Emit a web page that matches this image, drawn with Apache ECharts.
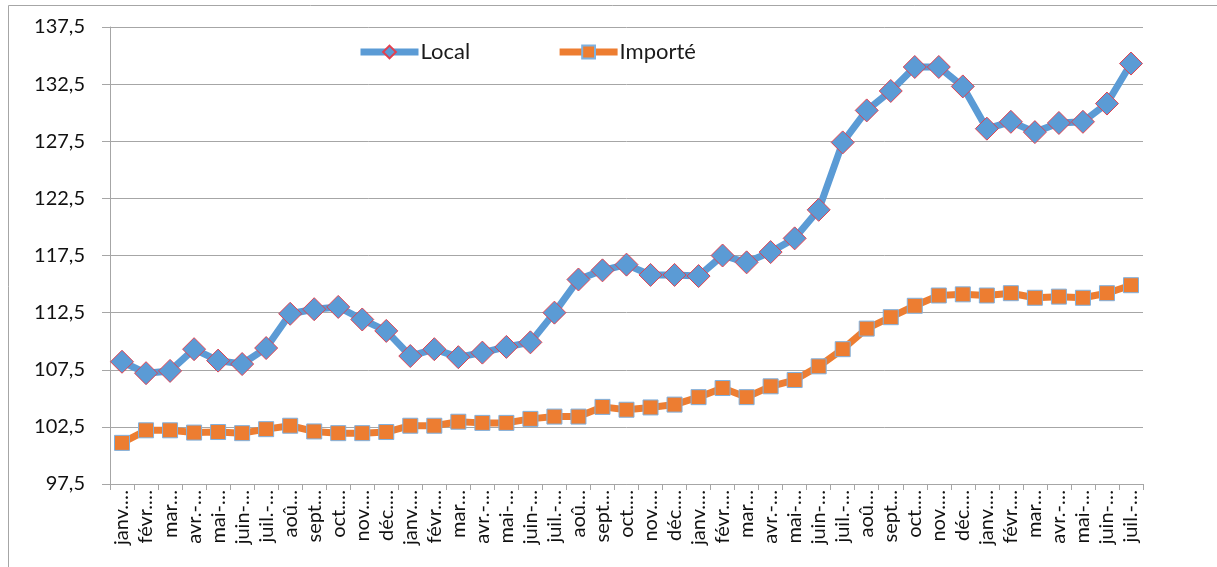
<!DOCTYPE html>
<html lang="fr">
<head>
    <meta charset="UTF-8">
    <title>Local / Importé</title>
    <script src="https://cdn.jsdelivr.net/npm/echarts@6/dist/echarts.min.js"></script>
</head>
<body style="margin:0;background:#fff">
<div id="main" style="width:1217px;height:567px;"></div>
<script>
    // tick labels as shown (truncated month names)
    const months = ['janv.…', 'févr.…', 'mar…', 'avr.-…', 'mai-…', 'juin-…', 'juil.-…',
        'aoû…', 'sept…', 'oct.…', 'nov.…', 'déc.…',
        'janv.…', 'févr.…', 'mar…', 'avr.-…', 'mai-…', 'juin-…', 'juil.-…',
        'aoû…', 'sept…', 'oct.…', 'nov.…', 'déc.…',
        'janv.…', 'févr.…', 'mar…', 'avr.-…', 'mai-…', 'juin-…', 'juil.-…',
        'aoû…', 'sept…', 'oct.…', 'nov.…', 'déc.…',
        'janv.…', 'févr.…', 'mar…', 'avr.-…', 'mai-…', 'juin-…', 'juil.-…'];

    const local = [108.2, 107.2, 107.4, 109.3, 108.3, 108.0, 109.4,
        112.4, 112.8, 113.0, 111.9, 110.9,
        108.7, 109.3, 108.6, 109.0, 109.5, 109.9, 112.5,
        115.4, 116.2, 116.7, 115.8, 115.8,
        115.7, 117.5, 116.9, 117.8, 119.0, 121.5, 127.4,
        130.2, 131.9, 134.0, 134.0, 132.3,
        128.6, 129.2, 128.3, 129.1, 129.2, 130.8, 134.3];

    const importe = [101.1, 102.2, 102.2, 102.0, 102.05, 101.95, 102.3,
        102.6, 102.1, 101.95, 101.95, 102.05,
        102.6, 102.6, 102.95, 102.85, 102.85, 103.2, 103.4,
        103.4, 104.25, 104.0, 104.2, 104.45,
        105.1, 105.9, 105.1, 106.05, 106.6, 107.8, 109.3,
        111.1, 112.1, 113.1, 114.0, 114.1,
        114.0, 114.2, 113.8, 113.9, 113.8, 114.2, 114.9];

    const txtFont = 'Lato, "Liberation Sans", sans-serif';
    const greyLine = '#a6a6a6';

    const myChart = echarts.init(document.getElementById('main'));
    const option = {
        animation: false,
        textStyle: {fontFamily: txtFont},
        graphic: [
            {type: 'line', shape: {x1: 8.5, y1: 5.5, x2: 1217, y2: 5.5}, style: {stroke: greyLine, lineWidth: 1}},
            {type: 'line', shape: {x1: 8.5, y1: 5.5, x2: 8.5, y2: 567}, style: {stroke: greyLine, lineWidth: 1}}
        ],
        legend: {
            top: 36,
            left: 352,
            itemWidth: 58,
            itemHeight: 16,
            itemGap: 86,
            lineStyle: {width: 7},
            textStyle: {fontSize: 22, color: '#1a1a1a', fontFamily: txtFont, padding: [0, 0, 0, -3]},
            data: ['Local', 'Importé']
        },
        grid: {left: 110, right: 74, top: 27, bottom: 83},
        xAxis: {
            type: 'category',
            data: months,
            boundaryGap: true,
            axisLine: {lineStyle: {color: greyLine}},
            axisTick: {show: true, length: 6, interval: 0, lineStyle: {color: greyLine}},
            axisLabel: {
                interval: 0,
                rotate: 90,
                margin: 6,
                fontSize: 20,
                color: '#111',
                fontFamily: txtFont
            }
        },
        yAxis: {
            type: 'value',
            min: 97.5,
            max: 137.5,
            interval: 5,
            axisLine: {show: true, lineStyle: {color: greyLine}},
            axisTick: {show: true, length: 8, lineStyle: {color: greyLine}},
            splitLine: {lineStyle: {color: greyLine, width: 1}},
            axisLabel: {
                margin: 25,
                fontSize: 20,
                color: '#111',
                fontFamily: txtFont,
                formatter: function (v) {
                    return v.toFixed(1).replace('.', ',');
                }
            }
        },
        series: [{
            name: 'Local',
            type: 'line',
            data: local,
            symbol: 'diamond',
            symbolSize: 23,
            lineStyle: {color: '#5b9bd5', width: 7},
            itemStyle: {color: '#5b9bd5', borderColor: '#e2404f', borderWidth: 1},
            z: 3
        }, {
            name: 'Importé',
            type: 'line',
            data: importe,
            symbol: 'rect',
            symbolSize: 15,
            lineStyle: {color: '#ed7d31', width: 7},
            itemStyle: {color: '#ed7d31', borderColor: '#7eb1e0', borderWidth: 1},
            z: 2
        }]
    };
    myChart.setOption(option);
</script>
</body>
</html>
